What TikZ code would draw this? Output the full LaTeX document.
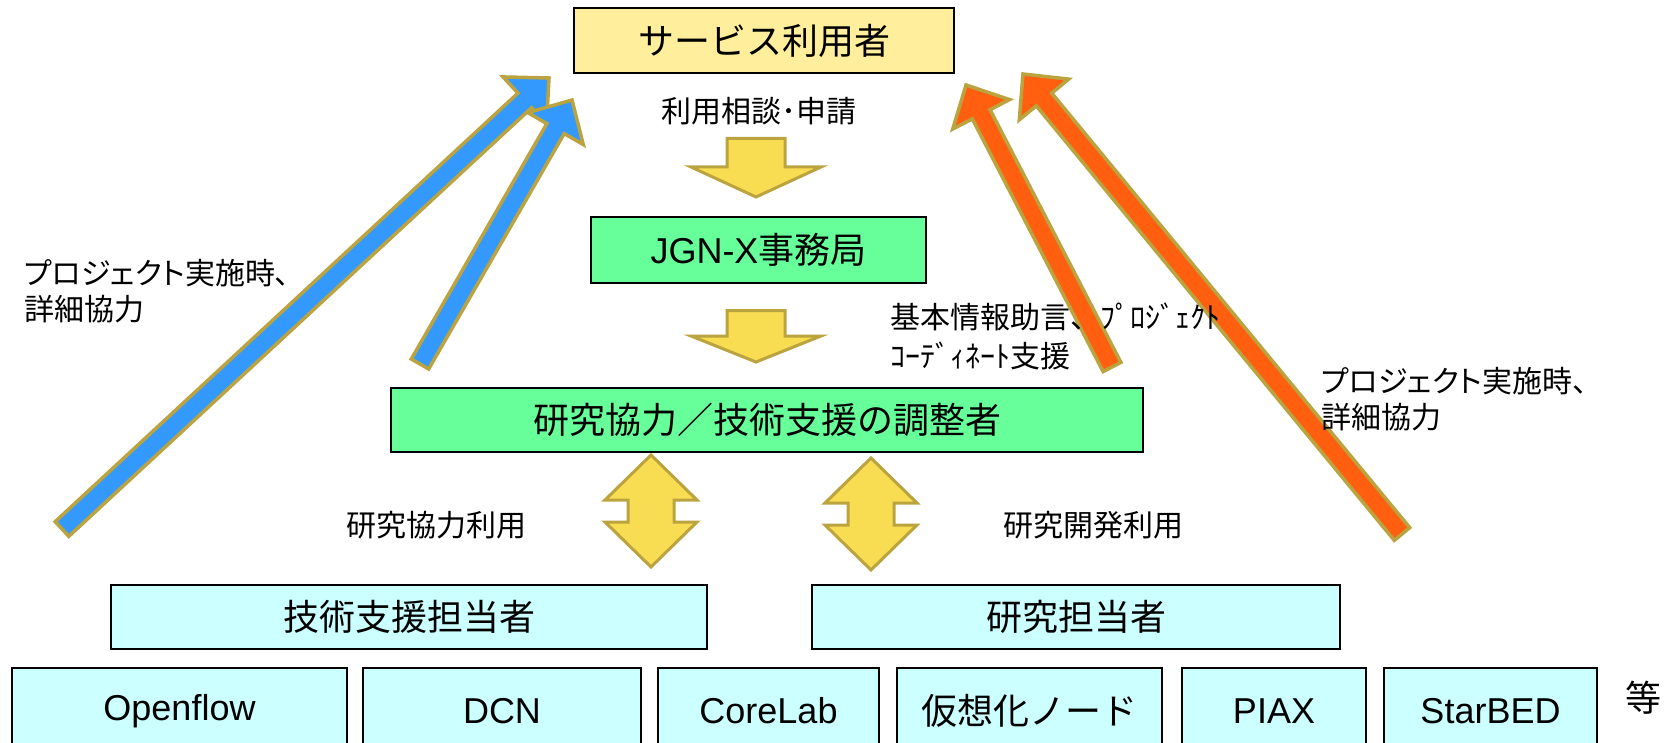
\documentclass[tikz,border=0pt]{standalone}
\usepackage{fontspec}
\setmainfont{Noto Sans CJK JP}
\newfontfamily\lblfont[RawFeature=+palt]{Noto Sans CJK JP}
\newfontfamily\latfont{Liberation Sans}
\usetikzlibrary{calc}
\definecolor{topfill}{HTML}{FFEE9C}
\definecolor{grn}{HTML}{66FF99}
\definecolor{cyn}{HTML}{CCFFFF}
\definecolor{ylw}{HTML}{F8DC52}
\definecolor{gold}{HTML}{BBA43F}
\definecolor{blu}{HTML}{3399FF}
\definecolor{org}{HTML}{FF5F0F}
\newcommand{\blkarrow}[3]{%
  \coordinate (hb) at ($(#2)!16.5pt!(#1)$);
  \draw[blkborder, fill=#3]
    ($(#1)!5pt!90:(#2)$) -- ($(hb)!5pt!90:(#2)$) -- ($(hb)!16pt!90:(#2)$)
    -- (#2) -- ($(hb)!16pt!-90:(#2)$) -- ($(hb)!5pt!-90:(#2)$)
    -- ($(#1)!5pt!-90:(#2)$) -- cycle;
}
\begin{document}
\begin{tikzpicture}[x=0.5pt, y=-0.5pt,
  box/.style={draw=black, line width=1pt, inner sep=0pt, font=\fontsize{18}{21}\selectfont},
  lbl/.style={inner sep=0pt, font=\fontsize{15}{18}\selectfont},
  blkborder/.style={draw=gold, line width=1.75pt, line join=miter},
  ybord/.style={draw=gold, fill=ylw, line width=1.5pt, line join=miter}]
\useasboundingbox (0,0) rectangle (1669,743);
\begin{scope}
\clip (0,0) rectangle (1669,743);

% boxes
\node[box, fill=topfill, minimum width=190pt, minimum height=32.5pt] (user) at (764,40.5) {サービス利用者};
\node[box, fill=grn, minimum width=167.5pt, minimum height=33pt] (jgn) at (758.5,250) {{\latfont JGN-X}事務局};
\node[box, fill=grn, minimum width=376pt, minimum height=32pt] (coord) at (767,420) {研究協力／技術支援の調整者};
\node[box, fill=cyn, minimum width=298pt, minimum height=32pt] (tech) at (409,617) {技術支援担当者};
\node[box, fill=cyn, minimum width=264pt, minimum height=32pt] (res) at (1076,617) {研究担当者};

\node[box, fill=cyn, minimum width=167.5pt, minimum height=43pt] (b1) at (179.5,711) {\latfont Openflow};
\node[box, fill=cyn, minimum width=139pt, minimum height=43pt] (b2) at (502,711) {\latfont DCN};
\node[box, fill=cyn, minimum width=110.5pt, minimum height=43pt] (b3) at (768.5,711) {\latfont CoreLab};
\node[box, fill=cyn, minimum width=132.5pt, minimum height=43pt] (b4) at (1029.5,711) {仮想化ノード};
\node[box, fill=cyn, minimum width=92pt, minimum height=43pt] (b5) at (1274,711) {\latfont PIAX};
\node[box, fill=cyn, minimum width=106.5pt, minimum height=43pt] (b6) at (1490.5,711) {\latfont StarBED};
\node[inner sep=0pt, font=\fontsize{18}{21}\selectfont] (etc) at (1643,698) {等};

% yellow block arrows
\coordinate (d1) at (756,137);
\draw[ybord] (d1) ++(-29,1.5) -- ++(58,0) -- ++(0,28.5) -- ++(36,0) -- ++(-65,30) -- ++(-65,-30) -- ++(36,0) -- cycle;
\coordinate (d2) at (756,309);
\draw[ybord] (d2) ++(-29,1.5) -- ++(58,0) -- ++(0,25.5) -- ++(36,0) -- ++(-65,26) -- ++(-65,-26) -- ++(36,0) -- cycle;

\coordinate (u1) at (651,455);
\draw[ybord] (u1) -- ++(46,45) -- ++(-23,0) -- ++(0,22) -- ++(23,0) -- ++(-46,45) -- ++(-46,-45) -- ++(23,0) -- ++(0,-22) -- ++(-23,0) -- cycle;
\coordinate (u2) at (871,458);
\draw[ybord] (u2) -- ++(46,45) -- ++(-23,0) -- ++(0,22) -- ++(23,0) -- ++(-46,45) -- ++(-46,-45) -- ++(23,0) -- ++(0,-22) -- ++(-23,0) -- cycle;

% blue and orange arrows
\coordinate (ta) at (62,529);
\coordinate (pa) at (549,78);
\coordinate (tb) at (420,364);
\coordinate (pb) at (572,100);
\coordinate (tc) at (1112,367);
\coordinate (pc) at (966,85);
\coordinate (td) at (1402,534);
\coordinate (pd) at (1023,74);
\blkarrow{ta}{pa}{blu}
\blkarrow{tb}{pb}{blu}
\blkarrow{tc}{pc}{org}
\blkarrow{td}{pd}{org}

% labels
\node[lbl, anchor=center] (lab1) at (759,111) {利用相談･申請};
\node[lbl, anchor=west, align=left, font=\fontsize{15}{19.5}\selectfont] (lab2) at (890,336.5) {基本情報助言、ﾌﾟﾛｼﾞｪｸﾄ\\ｺｰﾃﾞｨﾈｰﾄ支援};
\node[lbl, anchor=west, align=left] (labL) at (24,291) {\lblfont プロジェクト実施時、\\\lblfont 詳細協力};
\node[lbl, anchor=west, align=left] (labR) at (1321,399) {\lblfont プロジェクト実施時、\\\lblfont 詳細協力};
\node[lbl] (lab3) at (436,525) {研究協力利用};
\node[lbl] (lab4) at (1093,525) {研究開発利用};
\end{scope}
\end{tikzpicture}
\end{document}
